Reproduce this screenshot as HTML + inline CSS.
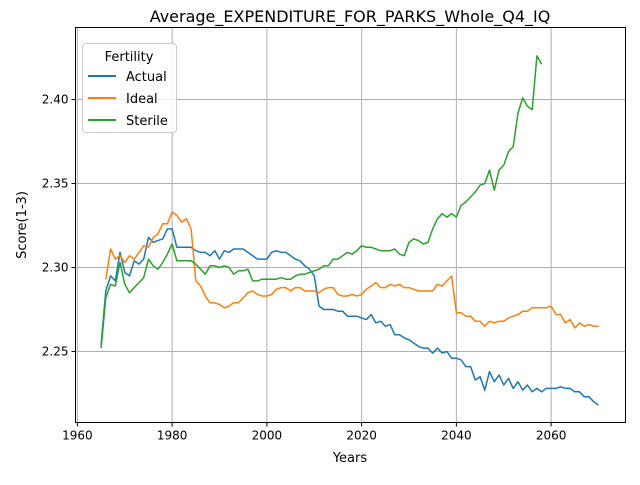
<!DOCTYPE html>
<html><head><meta charset="utf-8"><style>
body{margin:0;background:#fff;font-family:"Liberation Sans","DejaVu Sans",sans-serif;}
svg text{font-family:"DejaVu Sans","Liberation Sans",sans-serif;}
</style></head><body>
<svg id="chart" width="640" height="480" xmlns="http://www.w3.org/2000/svg">
<rect width="640" height="480" fill="#fff"/>
<g id="grid"></g>
<g id="series"></g>
<rect x="75.5" y="27.5" width="550" height="395" fill="none" stroke="#000" stroke-width="1"/>
<g id="ticks"></g>
<text x="350" y="22" font-size="16" text-anchor="middle">Average_EXPENDITURE_FOR_PARKS_Whole_Q4_IQ</text>
<text x="350" y="462" font-size="13" text-anchor="middle">Years</text>
<text x="0" y="0" font-size="13" text-anchor="middle" transform="translate(26,225) rotate(-90)">Score(1-3)</text>
<g>
<rect x="82.5" y="43.5" width="94" height="89" rx="3" fill="#fff" fill-opacity="0.8" stroke="#ccc"/>
<text x="129" y="61" font-size="13" text-anchor="middle">Fertility</text>
<g><line x1="88" y1="76" x2="116" y2="76" stroke="#1f77b4" stroke-width="2"/><text x="126" y="81" font-size="13">Actual</text></g>
<g><line x1="88" y1="98" x2="116" y2="98" stroke="#ff7f0e" stroke-width="2"/><text x="126" y="103" font-size="13">Ideal</text></g>
<g><line x1="88" y1="120" x2="116" y2="120" stroke="#2ca02c" stroke-width="2"/><text x="126" y="125" font-size="13">Sterile</text></g>
</g>
</svg>
<script>
const startYear = 1965;
const actual = [2.254,2.286,2.295,2.292,2.309,2.297,2.295,2.304,2.302,2.305,2.318,2.315,2.316,2.317,2.323,2.323,2.312,2.312,2.312,2.312,2.310,2.309,2.309,2.307,2.310,2.305,2.310,2.309,2.311,2.311,2.311,2.309,2.307,2.305,2.305,2.305,2.309,2.310,2.309,2.309,2.307,2.305,2.304,2.301,2.299,2.295,2.277,2.275,2.275,2.275,2.274,2.274,2.271,2.271,2.271,2.270,2.269,2.272,2.267,2.268,2.265,2.266,2.260,2.260,2.258,2.257,2.255,2.253,2.252,2.252,2.249,2.252,2.249,2.250,2.246,2.246,2.245,2.241,2.241,2.233,2.235,2.227,2.238,2.232,2.236,2.230,2.234,2.228,2.232,2.227,2.230,2.226,2.228,2.226,2.228,2.228,2.228,2.229,2.228,2.228,2.226,2.226,2.223,2.223,2.220,2.218];
const idealStart = 1966;
const ideal = [2.293,2.311,2.305,2.307,2.303,2.307,2.305,2.309,2.313,2.312,2.318,2.320,2.326,2.326,2.333,2.331,2.327,2.329,2.323,2.292,2.289,2.283,2.279,2.279,2.278,2.276,2.277,2.279,2.279,2.282,2.285,2.286,2.284,2.283,2.283,2.284,2.287,2.288,2.288,2.286,2.288,2.288,2.286,2.286,2.286,2.285,2.287,2.288,2.288,2.284,2.283,2.283,2.284,2.283,2.284,2.287,2.289,2.291,2.288,2.288,2.290,2.289,2.290,2.288,2.288,2.287,2.286,2.286,2.286,2.286,2.290,2.289,2.292,2.295,2.273,2.273,2.271,2.271,2.268,2.268,2.265,2.268,2.267,2.268,2.268,2.270,2.271,2.272,2.274,2.274,2.276,2.276,2.276,2.276,2.277,2.272,2.272,2.267,2.269,2.264,2.267,2.265,2.266,2.265,2.265];
const sterile = [2.252,2.282,2.290,2.289,2.303,2.290,2.285,2.288,2.291,2.294,2.305,2.301,2.299,2.303,2.308,2.314,2.304,2.304,2.304,2.304,2.302,2.299,2.296,2.301,2.301,2.300,2.301,2.300,2.296,2.298,2.298,2.299,2.292,2.292,2.293,2.293,2.293,2.293,2.294,2.293,2.293,2.295,2.296,2.296,2.297,2.298,2.299,2.301,2.301,2.305,2.305,2.307,2.309,2.308,2.310,2.313,2.312,2.312,2.311,2.310,2.310,2.310,2.311,2.308,2.307,2.315,2.317,2.316,2.314,2.315,2.323,2.329,2.332,2.330,2.332,2.330,2.337,2.339,2.342,2.345,2.349,2.350,2.358,2.346,2.358,2.361,2.369,2.372,2.392,2.401,2.396,2.394,2.426,2.421];
const xTicks = [1960,1980,2000,2020,2040,2060];
const yTicks = [2.25,2.30,2.35,2.40];

const X0=75.5,X1=625.5,Y0=422.5,Y1=27.5;
const xMin=1959.6,xMax=2075.7,yMin=2.2077,yMax=2.4429;
function xs(v){return X0+(v-xMin)/(xMax-xMin)*(X1-X0);}
function ys(v){return Y0-(v-yMin)/(yMax-yMin)*(Y0-Y1);}
const NS="http://www.w3.org/2000/svg";
const grid=document.getElementById('grid'),ticks=document.getElementById('ticks'),series=document.getElementById('series');
function mk(tag,attrs,parent){const e=document.createElementNS(NS,tag);for(const k in attrs)e.setAttribute(k,attrs[k]);parent.appendChild(e);return e;}
xTicks.forEach(t=>{const x=xs(t);
 const g=mk('line',{x1:x,x2:x,y1:Y1,y2:Y0,stroke:'#b0b0b0','stroke-width':1},grid);
 
 
 mk('line',{x1:x,x2:x,y1:Y0,y2:Y0+4,stroke:'#000'},ticks);
 const l=mk('text',{x:x,y:Y0+17,'font-size':12,'text-anchor':'middle'},ticks);l.textContent=t;
 
 
});
yTicks.forEach(t=>{const y=ys(t);
 const g=mk('line',{x1:X0,x2:X1,y1:y,y2:y,stroke:'#b0b0b0','stroke-width':1},grid);
 
 
 mk('line',{x1:X0-4,x2:X0,y1:y,y2:y,stroke:'#000'},ticks);
 const l=mk('text',{x:X0-7,y:y+4,'font-size':12,'text-anchor':'end'},ticks);l.textContent=t.toFixed(2);
 
 
});
function draw(arr,start,color,name){
 const pts=arr.map((v,i)=>xs(start+i).toFixed(1)+','+ys(v).toFixed(1)).join(' ');
 const p=mk('polyline',{points:pts,fill:'none',stroke:color,'stroke-width':1.5,'stroke-linejoin':'round'},series);
 
 
}
draw(actual,startYear,'#1f77b4','actual-line');
draw(ideal,idealStart,'#ff7f0e','ideal-line');
draw(sterile,startYear,'#2ca02c','sterile-line');
</script>
</body></html>
